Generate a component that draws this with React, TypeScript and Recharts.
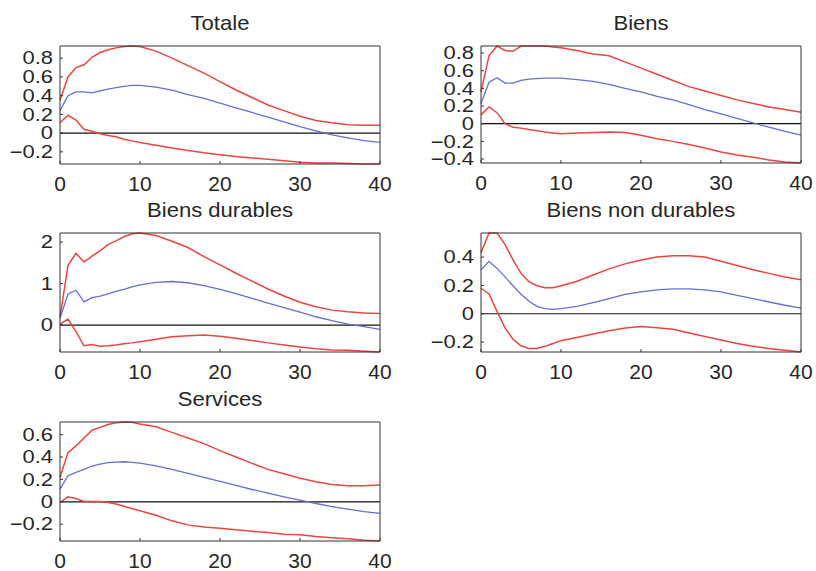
import React from 'react'
import { LineChart, Line, XAxis, YAxis, ReferenceLine } from 'recharts'

// horizons (quarters) at which the responses are sampled
const steps = [0, 1, 2, 3, 4, 5, 6, 7, 8, 9, 10, 12, 14, 16, 18, 20, 22, 24, 26, 28, 30, 32, 34, 36, 38, 40]
const xTicks = [0, 10, 20, 30, 40]

const totaleHaut = [0.35, 0.6, 0.7, 0.73, 0.81, 0.86, 0.89, 0.91, 0.925, 0.93, 0.925, 0.875, 0.8, 0.72, 0.64, 0.55, 0.46, 0.38, 0.3, 0.24, 0.18, 0.135, 0.11, 0.09, 0.085, 0.085]
const totaleMoy = [0.24, 0.4, 0.44, 0.44, 0.43, 0.45, 0.47, 0.485, 0.5, 0.51, 0.51, 0.49, 0.46, 0.41, 0.37, 0.32, 0.27, 0.22, 0.17, 0.12, 0.07, 0.025, -0.02, -0.05, -0.08, -0.1]
const totaleBas = [0.11, 0.19, 0.14, 0.04, 0.02, -0.007, -0.025, -0.04, -0.065, -0.083, -0.1, -0.13, -0.16, -0.185, -0.21, -0.23, -0.25, -0.265, -0.28, -0.295, -0.31, -0.32, -0.32, -0.325, -0.33, -0.33]

const biensHaut = [0.36, 0.77, 0.88, 0.83, 0.82, 0.88, 0.88, 0.88, 0.88, 0.87, 0.86, 0.83, 0.79, 0.77, 0.7, 0.63, 0.56, 0.49, 0.42, 0.37, 0.32, 0.27, 0.23, 0.19, 0.16, 0.13]
const biensMoy = [0.23, 0.47, 0.52, 0.46, 0.46, 0.49, 0.505, 0.51, 0.517, 0.517, 0.517, 0.5, 0.48, 0.445, 0.4, 0.36, 0.31, 0.27, 0.215, 0.16, 0.11, 0.06, 0.01, -0.04, -0.087, -0.13]
const biensBas = [0.1, 0.19, 0.125, 0.0, -0.04, -0.05, -0.065, -0.08, -0.095, -0.105, -0.113, -0.105, -0.1, -0.095, -0.1, -0.13, -0.17, -0.2, -0.235, -0.275, -0.32, -0.355, -0.38, -0.41, -0.435, -0.445]

const durablesHaut = [0.18, 1.44, 1.73, 1.52, 1.66, 1.79, 1.94, 2.03, 2.13, 2.2, 2.22, 2.16, 2.02, 1.87, 1.65, 1.45, 1.25, 1.06, 0.87, 0.7, 0.55, 0.44, 0.36, 0.32, 0.29, 0.28]
const durablesMoy = [0.16, 0.75, 0.84, 0.56, 0.66, 0.7, 0.75, 0.81, 0.86, 0.92, 0.97, 1.03, 1.05, 1.02, 0.95, 0.86, 0.76, 0.645, 0.53, 0.42, 0.31, 0.2, 0.105, 0.024, -0.04, -0.105]
const durablesBas = [0.02, 0.145, -0.16, -0.5, -0.47, -0.51, -0.5, -0.48, -0.45, -0.43, -0.4, -0.34, -0.28, -0.26, -0.24, -0.27, -0.32, -0.37, -0.43, -0.48, -0.53, -0.57, -0.6, -0.61, -0.63, -0.65]

const nonDurablesHaut = [0.43, 0.57, 0.57, 0.49, 0.38, 0.285, 0.226, 0.198, 0.183, 0.183, 0.198, 0.23, 0.274, 0.317, 0.352, 0.38, 0.4, 0.41, 0.41, 0.4, 0.37, 0.34, 0.31, 0.285, 0.26, 0.24]
const nonDurablesMoy = [0.31, 0.37, 0.32, 0.26, 0.198, 0.138, 0.088, 0.052, 0.036, 0.031, 0.036, 0.052, 0.079, 0.107, 0.136, 0.155, 0.169, 0.176, 0.176, 0.169, 0.155, 0.13, 0.107, 0.083, 0.06, 0.04]
const nonDurablesBas = [0.18, 0.14, 0.017, -0.1, -0.18, -0.226, -0.245, -0.245, -0.23, -0.21, -0.19, -0.167, -0.143, -0.12, -0.1, -0.09, -0.098, -0.11, -0.136, -0.16, -0.186, -0.21, -0.23, -0.245, -0.257, -0.27]

const servicesHaut = [0.22, 0.44, 0.5, 0.57, 0.64, 0.665, 0.69, 0.707, 0.713, 0.71, 0.695, 0.67, 0.62, 0.57, 0.52, 0.457, 0.4, 0.343, 0.29, 0.25, 0.21, 0.18, 0.155, 0.143, 0.143, 0.15]
const servicesMoy = [0.113, 0.233, 0.263, 0.29, 0.32, 0.337, 0.35, 0.355, 0.358, 0.353, 0.346, 0.322, 0.29, 0.254, 0.218, 0.182, 0.146, 0.11, 0.078, 0.045, 0.015, -0.015, -0.042, -0.066, -0.087, -0.104]
const servicesBas = [-0.006, 0.045, 0.03, 0.003, 0.003, 0.003, -0.006, -0.02, -0.04, -0.06, -0.08, -0.12, -0.17, -0.206, -0.224, -0.236, -0.25, -0.263, -0.275, -0.29, -0.295, -0.31, -0.32, -0.33, -0.343, -0.35]

const RED = '#ea4540'
const BLUE = '#6470d2'
const INK = '#262626'
const FONT = '"Liberation Sans", Arial, Helvetica, sans-serif'

// space around the plot box: left tick labels, top/right frame axes, bottom tick labels
const YW = 60
const MT = 3
const TOPW = 1
const RIGHTW = 1
const MR = 15
const XH = 36

const fmt = (v: number) => (v < 0 ? '\u2212' + String(-v) : String(v))

const YTick = (props: any) => {
  const { x, y, payload } = props
  return (
    <text
      transform={`translate(${x},${y}) scale(1.22,1)`}
      textAnchor="end"
      dominantBaseline="central"
      fontSize={18}
      fontFamily={FONT}
      fill={INK}
    >
      {fmt(payload.value)}
    </text>
  )
}

interface Box { x: number; y: number; w: number; h: number }

interface PanelProps {
  title: string
  box: Box
  baseline: number
  haut: number[]
  moy: number[]
  bas: number[]
  yTicks: number[]
}

const Panel: React.FC<PanelProps> = ({ title, box, baseline, haut, moy, bas, yTicks }) => {
  const data = steps.map((t, i) => ({ t, haut: haut[i], moy: moy[i], bas: bas[i] }))
  const domain = [Math.min(...bas), Math.max(...haut)]

  return (
    <>
      <div
        style={{
          position: 'absolute',
          left: box.x,
          width: box.w,
          top: baseline - 18,
          lineHeight: '21px',
          fontSize: 21,
          fontFamily: FONT,
          color: INK,
          textAlign: 'center',
          whiteSpace: 'nowrap',
          transform: 'scaleX(1.05)',
        }}
      >
        {title}
      </div>
      <div style={{ position: 'absolute', left: box.x - YW, top: box.y - MT - TOPW }}>
        <LineChart
          width={YW + box.w + RIGHTW + MR}
          height={MT + TOPW + box.h + XH}
          data={data}
          margin={{ top: MT, right: MR, left: 0, bottom: 0 }}
        >
          <XAxis
            dataKey="t"
            type="number"
            domain={[0, 40]}
            ticks={xTicks}
            interval={0}
            height={XH}
            tickSize={-3}
            tickMargin={15}
            stroke="#333"
            tick={{ fill: INK, fontSize: 21, fontFamily: FONT }}
          />
          <XAxis
            xAxisId="top"
            orientation="top"
            dataKey="t"
            type="number"
            domain={[0, 40]}
            ticks={xTicks}
            interval={0}
            height={TOPW}
            tickSize={-3}
            tick={false}
            stroke="#333"
          />
          <YAxis
            type="number"
            domain={domain}
            ticks={yTicks}
            interval={0}
            width={YW}
            tickSize={-3}
            tickMargin={10}
            stroke="#333"
            tick={<YTick />}
          />
          <YAxis
            yAxisId="right"
            orientation="right"
            type="number"
            domain={domain}
            ticks={yTicks}
            interval={0}
            width={RIGHTW}
            tickSize={-3}
            tick={false}
            stroke="#333"
          />
          <ReferenceLine y={0} stroke="#111" strokeWidth={1.2} />
          <Line type="linear" dataKey="haut" stroke={RED} strokeWidth={1.5} dot={false} isAnimationActive={false} />
          <Line type="linear" dataKey="moy" stroke={BLUE} strokeWidth={1.3} dot={false} isAnimationActive={false} />
          <Line type="linear" dataKey="bas" stroke={RED} strokeWidth={1.5} dot={false} isAnimationActive={false} />
        </LineChart>
      </div>
    </>
  )
}

export default function App() {
  return (
    <div
      style={{
        position: 'absolute',
        left: 0,
        top: 0,
        width: 816,
        height: 571,
        overflow: 'hidden',
        background: '#fff',
      }}
    >
      <Panel
        title="Totale"
        box={{ x: 60, y: 46, w: 320, h: 118 }}
        baseline={30}
        haut={totaleHaut}
        moy={totaleMoy}
        bas={totaleBas}
        yTicks={[-0.2, 0, 0.2, 0.4, 0.6, 0.8]}
      />
      <Panel
        title="Biens"
        box={{ x: 481, y: 46, w: 320, h: 117 }}
        baseline={30}
        haut={biensHaut}
        moy={biensMoy}
        bas={biensBas}
        yTicks={[-0.4, -0.2, 0, 0.2, 0.4, 0.6, 0.8]}
      />
      <Panel
        title="Biens durables"
        box={{ x: 60, y: 233, w: 320, h: 119 }}
        baseline={217}
        haut={durablesHaut}
        moy={durablesMoy}
        bas={durablesBas}
        yTicks={[0, 1, 2]}
      />
      <Panel
        title="Biens non durables"
        box={{ x: 481, y: 233, w: 320, h: 119 }}
        baseline={217}
        haut={nonDurablesHaut}
        moy={nonDurablesMoy}
        bas={nonDurablesBas}
        yTicks={[-0.2, 0, 0.2, 0.4]}
      />
      <Panel
        title="Services"
        box={{ x: 60, y: 422, w: 320, h: 119 }}
        baseline={406}
        haut={servicesHaut}
        moy={servicesMoy}
        bas={servicesBas}
        yTicks={[-0.2, 0, 0.2, 0.4, 0.6]}
      />
    </div>
  )
}
